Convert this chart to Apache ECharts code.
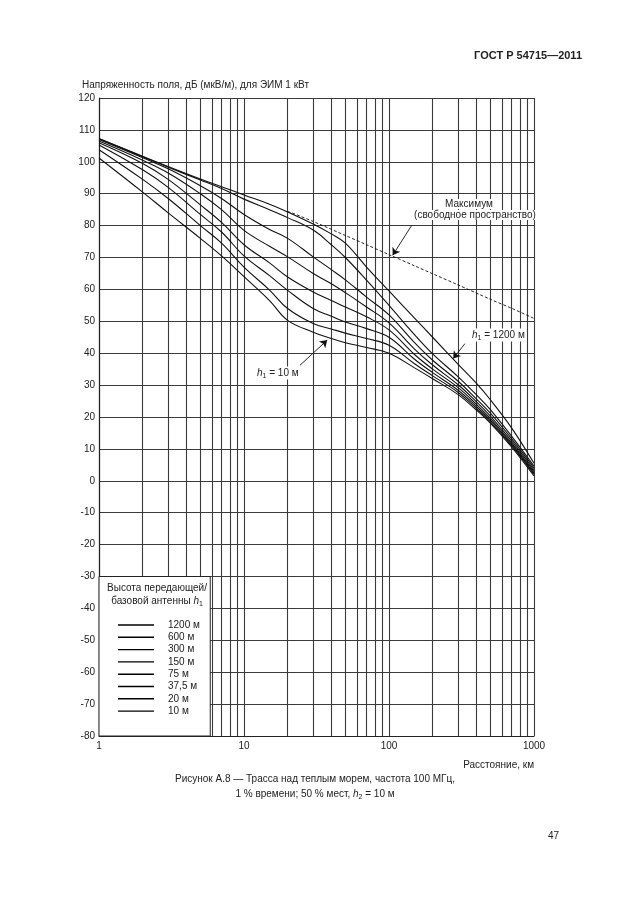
<!DOCTYPE html>
<html>
<head>
<meta charset="utf-8">
<script src="https://cdn.jsdelivr.net/npm/echarts@6/dist/echarts.min.js"></script>
<style>
html, body { margin: 0; padding: 0; background: #fff; }
#chart { width: 630px; height: 913px; }
</style>
</head>
<body>
<div id="chart"></div>
<script>
// расстояния, км
var distances = [1, 2, 3, 5, 7, 10, 15, 20, 30, 40, 50, 70, 100, 150, 200, 300, 400, 500, 700, 1000];

// напряженность поля по высотам h1, дБ(мкВ/м)
var heightNames = ['1200 м', '600 м', '300 м', '150 м', '75 м', '37,5 м', '20 м', '10 м'];
var h1200 = [107.3, 101.7, 98.5, 94.6, 92.2, 89.6, 86.7, 84.3, 80.5, 77.4, 74.5, 67.0, 59.5, 51.0, 45.0, 36.5, 30.6, 25.4, 16.6, 5.5];
var h600 = [107.2, 101.6, 98.3, 94.3, 91.6, 88.3, 85.0, 82.5, 78.6, 74.0, 70.0, 62.9, 55.0, 45.8, 39.8, 32.6, 27.0, 22.3, 14.0, 4.6];
var h300 = [107.0, 101.3, 97.8, 92.5, 88.5, 83.5, 78.8, 76.0, 70.2, 66.2, 63.0, 57.6, 52.0, 43.3, 37.8, 31.2, 25.7, 21.2, 13.2, 4.0];
var h150 = [106.5, 100.5, 96.5, 90.0, 85.0, 78.5, 73.5, 70.2, 65.0, 61.8, 59.0, 54.5, 49.5, 41.3, 36.3, 30.1, 24.8, 20.3, 12.5, 3.4];
var h75 = [106.0, 99.5, 94.5, 86.5, 81.0, 74.0, 68.3, 63.9, 59.2, 56.5, 54.5, 51.4, 47.3, 39.6, 35.0, 29.2, 24.0, 19.6, 11.9, 2.9];
var h37 = [105.3, 97.5, 92.0, 83.5, 78.0, 70.5, 64.3, 59.7, 54.0, 51.6, 49.8, 47.7, 45.0, 38.1, 33.9, 28.4, 23.3, 19.0, 11.4, 2.4];
var h20 = [103.8, 94.5, 88.5, 80.0, 74.5, 67.0, 59.8, 54.0, 49.3, 47.6, 46.3, 44.6, 42.5, 36.7, 32.9, 27.7, 22.7, 18.5, 11.0, 2.0];
var h10 = [101.2, 90.5, 84.0, 76.0, 70.5, 64.0, 56.5, 50.3, 46.6, 44.6, 43.3, 41.8, 40.0, 35.4, 32.0, 27.0, 22.2, 18.1, 10.6, 1.5];

// максимум (свободное пространство)
var maxDist = [20, 30, 50, 70, 100, 150, 200, 300, 500, 700, 1000];
var maxValues = [84.5, 81.3, 76.9, 74.0, 70.9, 67.4, 64.9, 61.4, 56.9, 54.1, 50.9];

// промежуточные линии сетки по расстоянию
var minorDist = [2, 3, 4, 5, 6, 7, 8, 9, 20, 30, 40, 50, 60, 70, 80, 90, 200, 300, 400, 500, 600, 700, 800, 900];

var font = 'Liberation Sans, Arial, sans-serif';
var curves = [h1200, h600, h300, h150, h75, h37, h20, h10];
var gridColor = '#3a3a3a';

function pairs(xs, ys) {
    var out = [];
    for (var i = 0; i < xs.length; i++) out.push([xs[i], ys[i]]);
    return out;
}

var series = [];
for (var k = 0; k < curves.length; k++) {
    series.push({
        name: heightNames[k],
        type: 'line',
        smooth: 0.4,
        symbol: 'none',
        z: 4,
        lineStyle: { color: '#111', width: 1.1 },
        itemStyle: { color: '#111' },
        data: pairs(distances, curves[k])
    });
}

series.push({
    name: 'max',
    type: 'line',
    smooth: 0.3,
    symbol: 'none',
    z: 4,
    lineStyle: { color: '#111', width: 0.9, type: [3, 2] },
    data: pairs(maxDist, maxValues)
});

// сетка, стрелки и рамка легенды
series.push({
    name: 'grid',
    type: 'line',
    data: [],
    z: 1,
    markLine: {
        silent: true,
        symbol: 'none',
        z: 1,
        animation: false,
        label: { show: false },
        lineStyle: { color: gridColor, width: 1.1, type: 'solid' },
        data: minorDist.map(function (d) { return { xAxis: d }; })
    }
});

series.push({
    name: 'box',
    type: 'line',
    data: [],
    z: 6,
    markArea: {
        silent: true,
        z: 10,
        itemStyle: { color: '#fff', borderColor: '#222', borderWidth: 1 },
        data: [[{ coord: [1, -80] }, { coord: [5.85, -30] }]]
    },
    markLine: {
        silent: true,
        z: 12,
        animation: false,
        symbol: ['none', 'arrow'],
        symbolSize: 7,
        label: { show: false },
        lineStyle: { color: '#111', width: 0.9, type: 'solid' },
        data: [
            [{ coord: [143.5, 80.1] }, { coord: [106, 70.7] }],
            [{ coord: [334, 43.0] }, { coord: [277, 38.3] }],
            [{ coord: [24.3, 36.2] }, { coord: [37.5, 44.1] }]
        ]
    }
});

var subRich = {
    i: { fontFamily: font, fontSize: 10, fontStyle: 'italic' },
    s: { fontFamily: font, fontSize: 7, padding: [6, 0, 0, 0] }
};

var chart = echarts.init(document.getElementById('chart'), null, { renderer: 'canvas' });
chart.setOption({
    backgroundColor: '#fff',
    animation: false,
    textStyle: { fontFamily: font },
    grid: { left: 99, right: 96, top: 98, bottom: 177, containLabel: false },
    legend: {
        data: heightNames,
        orient: 'vertical',
        left: 113,
        top: 615,
        z: 20,
        icon: 'path://M0,0L36,0L36,1.4L0,1.4Z',
        itemWidth: 36,
        itemHeight: 10,
        itemGap: 2.3,
        selectedMode: false,
        itemStyle: { color: '#000' },
        textStyle: { fontFamily: font, fontSize: 10, color: '#222', padding: [0, 0, 0, 9] }
    },
    xAxis: {
        type: 'log',
        logBase: 10,
        min: 1,
        max: 1000,
        name: 'Расстояние, км',
        nameLocation: 'end',
        nameGap: 0,
        nameTextStyle: { fontFamily: font, fontSize: 10, color: '#222', align: 'right', verticalAlign: 'top', padding: [24, 0, 0, 0] },
        axisLine: { onZero: false, lineStyle: { color: '#222', width: 1.2 } },
        axisTick: { show: false },
        axisLabel: { fontFamily: font, fontSize: 10, color: '#222', margin: 5, formatter: function (v) { return String(v); } },
        splitLine: { show: true, lineStyle: { color: gridColor, width: 1.1 } }
    },
    yAxis: {
        type: 'value',
        min: -80,
        max: 120,
        interval: 10,
        name: 'Напряженность поля, дБ (мкВ/м), для ЭИМ 1 кВт',
        nameLocation: 'end',
        nameGap: 8,
        nameTextStyle: { fontFamily: font, fontSize: 10, color: '#222', align: 'left', padding: [0, 0, 0, -17] },
        axisLine: { show: true, lineStyle: { color: '#222', width: 1.2 } },
        axisTick: { show: false },
        axisLabel: { fontFamily: font, fontSize: 10, color: '#222', margin: 4 },
        splitLine: { show: true, lineStyle: { color: gridColor, width: 1.1 } }
    },
    graphic: [
        { type: 'text', right: 48, top: 50, style: { text: 'ГОСТ Р 54715—2011', font: 'bold 11px ' + font, fill: '#222' } },
        { type: 'text', x: 469, y: 204, z: 30, style: { text: 'Максимум', font: '10px ' + font, fill: '#222', textAlign: 'center', textVerticalAlign: 'middle', backgroundColor: '#fff' } },
        { type: 'text', x: 475, y: 215, z: 30, style: { text: '(свободное пространство)', font: '10px ' + font, fill: '#222', textAlign: 'center', textVerticalAlign: 'middle', backgroundColor: '#fff' } },
        { type: 'text', x: 472, y: 335, z: 30, style: {
            text: '{i|h}{s|1} = 1200 м', fill: '#222', textVerticalAlign: 'middle', backgroundColor: '#fff',
            rich: subRich, font: '10px ' + font
        } },
        { type: 'text', x: 257, y: 373, z: 30, style: {
            text: '{i|h}{s|1} = 10 м', fill: '#222', textVerticalAlign: 'middle', backgroundColor: '#fff',
            rich: subRich, font: '10px ' + font
        } },
        { type: 'text', x: 157, y: 588, z: 30, style: { text: 'Высота передающей/', font: '10px ' + font, fill: '#222', textAlign: 'center', textVerticalAlign: 'middle' } },
        { type: 'text', x: 157, y: 601, z: 30, style: {
            text: 'базовой антенны {i|h}{s|1}', fill: '#222', textAlign: 'center', textVerticalAlign: 'middle',
            rich: subRich, font: '10px ' + font
        } },
        { type: 'text', x: 315, y: 779, style: { text: 'Рисунок А.8 — Трасса над теплым морем, частота 100 МГц,', font: '10px ' + font, fill: '#222', textAlign: 'center', textVerticalAlign: 'middle' } },
        { type: 'text', x: 315, y: 794, style: {
            text: '1 % времени; 50 % мест, {i|h}{s|2} = 10 м', fill: '#222', textAlign: 'center', textVerticalAlign: 'middle',
            rich: subRich, font: '10px ' + font
        } },
        { type: 'text', x: 548, y: 836, style: { text: '47', font: '10px ' + font, fill: '#222', textVerticalAlign: 'middle' } }
    ],
    series: series
});
</script>
</body>
</html>
